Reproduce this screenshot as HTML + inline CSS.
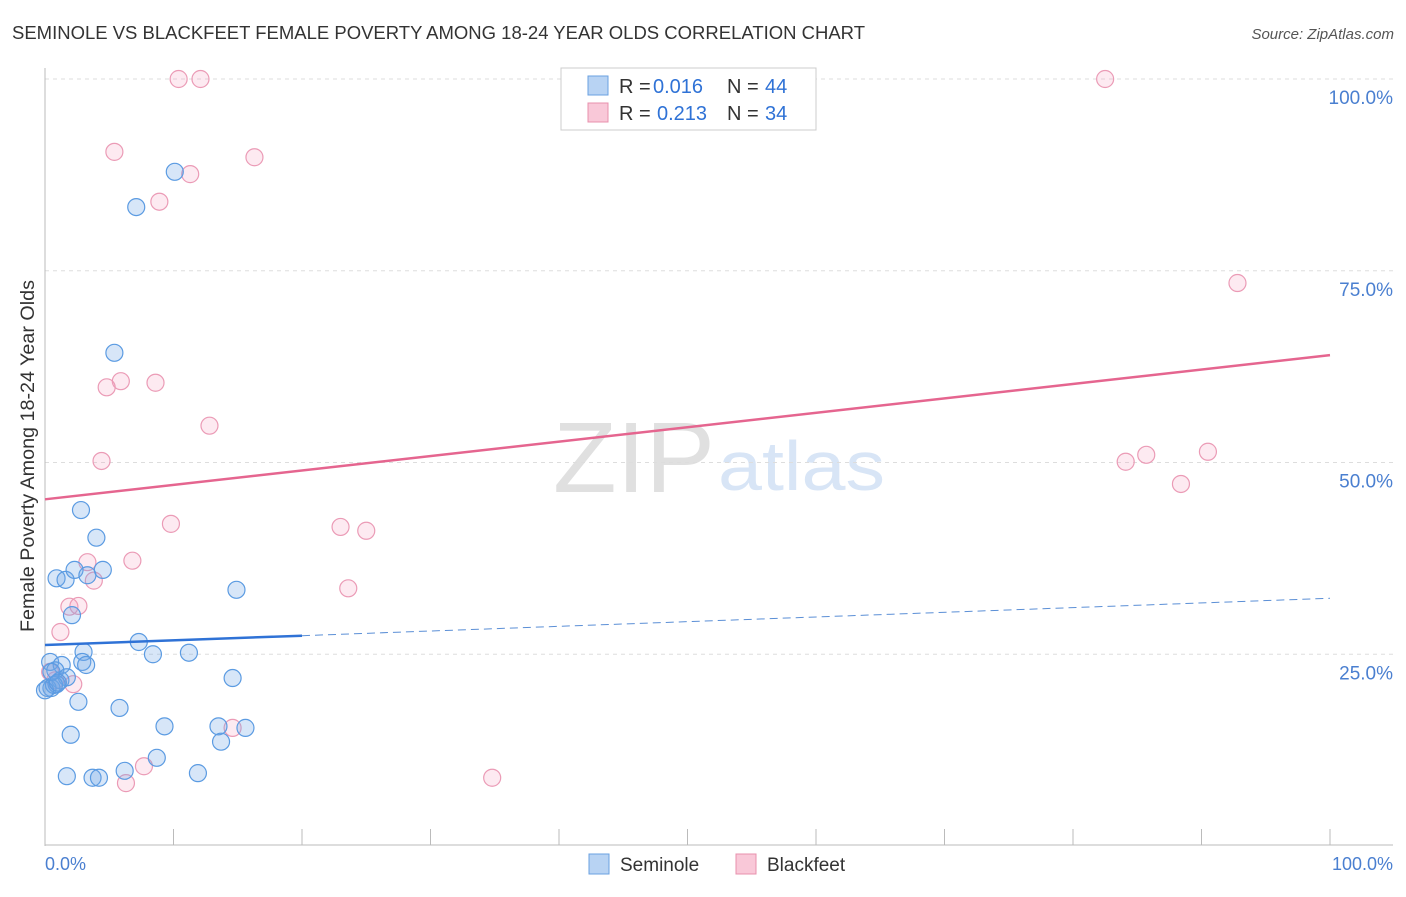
<!DOCTYPE html>
<html><head><meta charset="utf-8"><style>
body{margin:0;background:#fff;font-family:"Liberation Sans",sans-serif}
svg text{font-family:"Liberation Sans",sans-serif}
</style></head><body>
<svg id="chart" width="1406" height="892" viewBox="0 0 1406 892">
<text x="12" y="39" font-size="18" fill="#333" textLength="853" lengthAdjust="spacingAndGlyphs">SEMINOLE VS BLACKFEET FEMALE POVERTY AMONG 18-24 YEAR OLDS CORRELATION CHART</text>
<text x="1394" y="39" font-size="15" fill="#555" text-anchor="end" font-style="italic">Source: ZipAtlas.com</text>
<text x="553" y="492" font-size="100" fill="#e0e0e0" font-family="Liberation Serif,serif" textLength="162" lengthAdjust="spacingAndGlyphs">ZIP</text>
<text x="718" y="490" font-size="70" fill="#d8e5f6" textLength="167" lengthAdjust="spacingAndGlyphs">atlas</text>
<text transform="translate(34,456) rotate(-90)" font-size="19" fill="#333" text-anchor="middle" textLength="352" lengthAdjust="spacingAndGlyphs">Female Poverty Among 18-24 Year Olds</text>
<g id="grid"></g><g id="marks"></g>
<g>
<rect x="561" y="68" width="255" height="62" fill="#fff" stroke="#ccc"/>
<rect x="588" y="76" width="20" height="19" fill="#b8d3f3" stroke="#6aa0e0"/>
<text x="619" y="93" font-size="20" fill="#333">R =</text>
<text x="653" y="93" font-size="20" fill="#2f72d6">0.016</text>
<text x="727" y="93" font-size="20" fill="#333">N =</text>
<text x="765" y="93" font-size="20" fill="#2f72d6">44</text>
<rect x="588" y="103" width="20" height="19" fill="#f9c8d8" stroke="#e890ad"/>
<text x="619" y="120" font-size="20" fill="#333">R =</text>
<text x="657" y="120" font-size="20" fill="#2f72d6">0.213</text>
<text x="727" y="120" font-size="20" fill="#333">N =</text>
<text x="765" y="120" font-size="20" fill="#2f72d6">34</text>
</g>
<g>
<rect x="589" y="854" width="20" height="20" fill="#b8d3f3" stroke="#6aa0e0"/>
<text x="620" y="871" font-size="19" fill="#333">Seminole</text>
<rect x="736" y="854" width="20" height="20" fill="#f9c8d8" stroke="#e890ad"/>
<text x="767" y="871" font-size="19" fill="#333">Blackfeet</text>
</g>
<text x="45" y="870" font-size="18" fill="#4a7fd0">0.0%</text>
<text x="1393" y="870" font-size="18" fill="#4a7fd0" text-anchor="end">100.0%</text>
</svg>
<script>
const yTicks=[100,75,50,25];
const yTickLabels=["100.0%","75.0%","50.0%","25.0%"];
const xTicks=[10,20,30,40,50,60,70,80,90,100];
const seminoleX=[10.1,7.1,5.4,2.8,4.0,0.9,1.6,2.3,4.5,3.3,2.1,14.9,7.3,8.4,11.2,3.0,2.9,3.2,0.4,1.3,0.8,1.2,0.5,0.2,1.7,0.9,2.6,14.6,5.8,9.3,13.5,15.6,13.7,2.0,8.7,1.7,6.2,11.9,3.7,4.2,0.7,0.5,0.0,1.0];
const seminoleY=[87.9,83.3,64.3,43.8,40.2,34.9,34.7,36.0,36.0,35.3,30.1,33.4,26.6,25.0,25.2,25.3,24.0,23.6,24.0,23.6,22.9,21.6,20.6,20.6,22.0,21.1,18.8,21.9,18.0,15.6,15.6,15.4,13.6,14.5,11.5,9.1,9.8,9.5,8.9,8.9,21.0,22.7,20.3,21.3];
const blackfeetX=[10.4,12.1,82.5,5.4,16.3,11.3,8.9,92.8,5.9,4.8,8.6,12.8,4.4,84.1,85.7,90.5,88.4,9.8,23.0,25.0,6.8,3.3,3.8,23.6,1.9,2.6,1.2,2.2,14.6,7.7,6.3,34.8,0.8,0.4];
const blackfeetY=[100,100,100,90.5,89.8,87.6,84.0,73.4,60.6,59.8,60.4,54.8,50.2,50.1,51.0,51.4,47.2,42.0,41.6,41.1,37.2,37.0,34.6,33.6,31.2,31.3,27.9,21.1,15.4,10.4,8.2,8.9,21.6,22.7];
const seminoleTrend=[26.2,32.3];
const blackfeetTrend=[45.2,64.0];
const NS="http://www.w3.org/2000/svg";
const sx=v=>45+v*12.85, sy=v=>846-v*7.67;
function mk(tag,attrs,parent){const e=document.createElementNS(NS,tag);for(const k in attrs)e.setAttribute(k,attrs[k]);parent.appendChild(e);return e;}
const grid=document.getElementById('grid'), marks=document.getElementById('marks');
yTicks.forEach((t,i)=>{
 const l=mk('line',{x1:45,x2:1393,y1:sy(t),y2:sy(t),stroke:'#ddd','stroke-dasharray':'4,4'},grid);
 
 
 const tx=mk('text',{x:1393,y:sy(t)+25,'font-size':19,fill:'#4a7fd0','text-anchor':'end'},grid);
 tx.textContent=yTickLabels[i];
 
 
});
let ax=mk('line',{x1:45,x2:45,y1:68,y2:846,stroke:'#bbb'},grid);


ax=mk('line',{x1:45,x2:1393,y1:845,y2:845,stroke:'#bbb'},grid);


xTicks.forEach(t=>{
 const l=mk('line',{x1:sx(t),x2:sx(t),y1:829,y2:845,stroke:'#bbb'},grid);
 
 
});
function pts(xs,ys,fill,stroke,name){xs.forEach((x,i)=>{
 const c=mk('circle',{cx:sx(x),cy:sy(ys[i]),r:8.5,fill:fill,stroke:stroke,'stroke-width':1.2},marks);
 
 
});}
pts(blackfeetX,blackfeetY,'rgba(245,160,190,0.22)','#eb9bb6','blackfeet-point');
pts(seminoleX,seminoleY,'rgba(110,165,230,0.28)','#5b9be2','seminole-point');
let tl=mk('line',{x1:sx(0),y1:sy(blackfeetTrend[0]),x2:sx(100),y2:sy(blackfeetTrend[1]),stroke:'#e5658f','stroke-width':2.5},marks);


const bAt=x=>seminoleTrend[0]+(seminoleTrend[1]-seminoleTrend[0])*x/100;
tl=mk('line',{x1:sx(0),y1:sy(bAt(0)),x2:sx(20),y2:sy(bAt(20)),stroke:'#2f72d6','stroke-width':2.5},marks);


tl=mk('line',{x1:sx(20),y1:sy(bAt(20)),x2:sx(100),y2:sy(bAt(100)),stroke:'#5b8fd6','stroke-width':1,'stroke-dasharray':'8,5'},marks);


</script>
</body></html>
